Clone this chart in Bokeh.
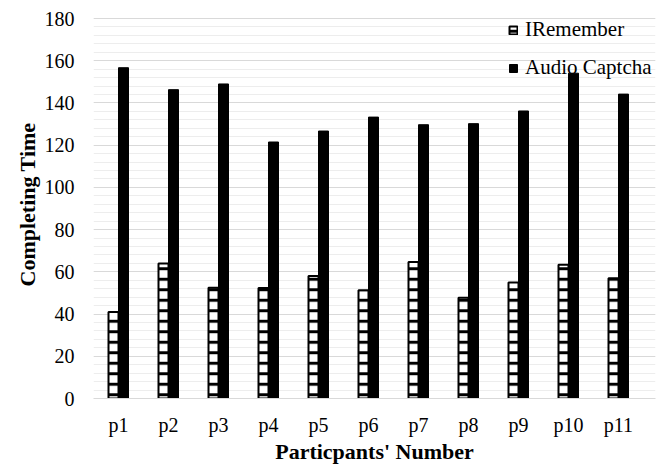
from bokeh.plotting import figure
from bokeh.models import ColumnDataSource, SingleIntervalTicker, FixedTicker, Legend, LegendItem, Range1d
from bokeh.transform import dodge
from bokeh.embed import file_html
from bokeh.resources import INLINE

participants = ["p1", "p2", "p3", "p4", "p5", "p6", "p7", "p8", "p9", "p10", "p11"]
iremember = [41.0, 64.0, 52.5, 52.3, 58.0, 51.3, 64.7, 47.7, 54.9, 63.4, 57.0]
audio_captcha = [156.7, 146.3, 149.0, 121.5, 126.7, 133.3, 129.7, 130.2, 136.2, 154.1, 144.2]
series_names = ["IRemember", "Audio Captcha"]

positions = list(range(1, len(participants) + 1))
src = ColumnDataSource(dict(x=positions, ir=iremember, ac=audio_captcha))

FONT = "'Liberation Serif', 'Times New Roman', serif"

p = figure(x_range=Range1d(0.5, 11.74), y_range=Range1d(0, 183.8),
           width=665, height=466, output_backend="svg", toolbar_location=None,
           min_border_left=93, min_border_right=10, min_border_top=10, min_border_bottom=67)
p.outline_line_color = None

r1 = p.vbar(x=dodge("x", -0.1), top="ir", width=0.2, source=src,
            fill_color="white", line_color="black", line_width=2,
            hatch_pattern="horizontal_line", hatch_color="black", hatch_weight=3, hatch_scale=10.5)
r2 = p.vbar(x=dodge("x", 0.1), top="ac", width=0.2, source=src,
            fill_color="black", line_color="black", line_width=1)

# grid
p.xgrid.grid_line_color = None
p.yaxis.ticker = SingleIntervalTicker(interval=20, num_minor_ticks=5)
p.ygrid.grid_line_color = "#d9d9d9"
p.ygrid.grid_line_width = 1.2
p.ygrid.minor_grid_line_color = "#ededed"
p.ygrid.minor_grid_line_width = 1.2

# axes
p.yaxis.axis_line_color = None
p.yaxis.major_tick_line_color = None
p.yaxis.minor_tick_line_color = None
p.yaxis.major_tick_out = 0
p.yaxis.major_tick_in = 0
p.yaxis.major_label_standoff = 15
p.yaxis.major_label_text_font = FONT
p.yaxis.major_label_text_font_size = "20px"
p.yaxis.major_label_text_color = "black"
p.yaxis.axis_label = "Completing Time"
p.yaxis.axis_label_text_font = FONT
p.yaxis.axis_label_text_font_size = "22px"
p.yaxis.axis_label_text_font_style = "bold"
p.yaxis.axis_label_text_color = "black"
p.yaxis.axis_label_standoff = 2

p.xaxis.ticker = FixedTicker(ticks=positions)
p.xaxis.major_label_overrides = {pos: name for pos, name in zip(positions, participants)}
p.xaxis.axis_line_color = "#d9d9d9"
p.xaxis.axis_line_width = 1.2
p.xaxis.major_tick_line_color = None
p.xaxis.minor_tick_line_color = None
p.xaxis.major_tick_out = 0
p.xaxis.major_tick_in = 0
p.xaxis.major_label_standoff = 15
p.xaxis.major_label_text_font = FONT
p.xaxis.major_label_text_font_size = "20px"
p.xaxis.major_label_text_color = "black"
p.xaxis.axis_label = "Particpants' Number"
p.xaxis.axis_label_text_font = FONT
p.xaxis.axis_label_text_font_size = "22px"
p.xaxis.axis_label_text_font_style = "bold"
p.xaxis.axis_label_text_color = "black"
p.xaxis.axis_label_standoff = 0

legend = Legend(items=[LegendItem(label=series_names[0], renderers=[r1]),
                       LegendItem(label=series_names[1], renderers=[r2])],
                location=(415, 318), orientation="vertical",
                glyph_width=10, glyph_height=10, label_standoff=7,
                label_text_font=FONT, label_text_font_size="21px", label_text_color="black",
                spacing=13, padding=0, margin=0, border_line_color=None,
                background_fill_alpha=0)
p.add_layout(legend, "center")

open("out.html", "w").write(file_html(p, INLINE))
